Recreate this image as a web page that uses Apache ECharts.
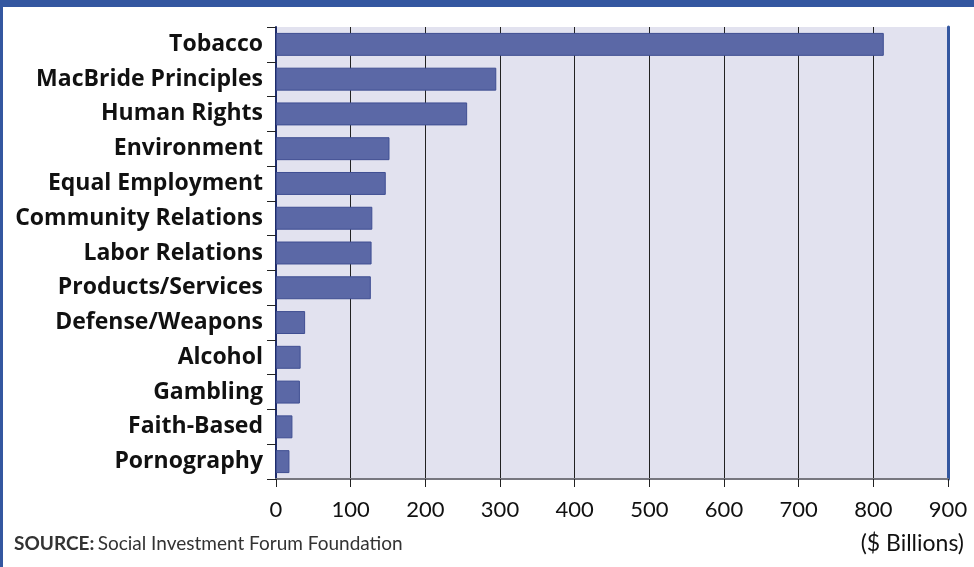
<!DOCTYPE html>
<html><head><meta charset="utf-8">
<script src="https://cdn.jsdelivr.net/npm/echarts@6/dist/echarts.min.js"></script>
<style>html,body{margin:0;padding:0;background:#fff}#c{width:974px;height:567px}</style>
</head><body><div id="c"></div>
<script>
const categories = ["Tobacco","MacBride Principles","Human Rights","Environment","Equal Employment","Community Relations","Labor Relations","Products/Services","Defense/Weapons","Alcohol","Gambling","Faith-Based","Pornography"];
const values = [814, 295, 256, 152, 147, 129, 128, 127, 39, 33, 32, 22, 18];
const xTicks = [0,100,200,300,400,500,600,700,800,900];

const chart = echarts.init(document.getElementById('c'));
chart.setOption({
  animation:false,
  backgroundColor:'#ffffff',
  grid:{left:276,right:26,top:27,bottom:88,show:true,backgroundColor:'#e2e2ef',borderWidth:0},
  graphic:[
    {type:'rect',left:0,top:0,shape:{width:974,height:7},style:{fill:'#3457a0'}},
    {type:'rect',left:0,top:0,shape:{width:3,height:567},style:{fill:'#3457a0'}},
    {type:'text',left:14,top:534,style:{rich:{b:{fontFamily:'Lato',fontWeight:'bold',fontSize:19,fill:'#333'},n:{fontFamily:'Lato',fontSize:19,fill:'#333'}},text:'{b|SOURCE:} {n|Social Investment Forum Foundation}'}},
    {type:'text',right:10,top:532,style:{text:'($ Billions)',fontFamily:'Lato',fontSize:23,fill:'#111'}}
  ],
  xAxis:{type:'value',min:0,max:900,interval:100,
    axisLine:{show:true,lineStyle:{color:'#77777f',width:2}},
    axisTick:{show:true,length:8,lineStyle:{color:'#222',width:1}},
    axisLabel:{fontFamily:'Lato',fontSize:22,color:'#111',margin:20,formatter:v=>xTicks.includes(v)?String(v):''},
    splitLine:{show:true,lineStyle:{color:'#222',width:1}}
  },
  yAxis:[{type:'category',data:categories,inverse:true,
    axisLine:{show:true,lineStyle:{color:'#1f2d6b',width:2}},
    axisTick:{show:true,length:9,lineStyle:{color:'#222',width:1}},
    axisLabel:{fontFamily:'Open Sans',fontWeight:'bold',fontSize:23,color:'#111',margin:13,padding:[9,0,0,0]}
  },{type:'category',data:categories,inverse:true,position:'right',
    axisLine:{show:true,lineStyle:{color:'#3457a0',width:3}},axisTick:{show:false},axisLabel:{show:false}}],
  series:[{type:'bar',data:values,barCategoryGap:'34%',
    itemStyle:{color:'#5b68a6',borderColor:'#3f4e92',borderWidth:1}}]
});
</script></body></html>
